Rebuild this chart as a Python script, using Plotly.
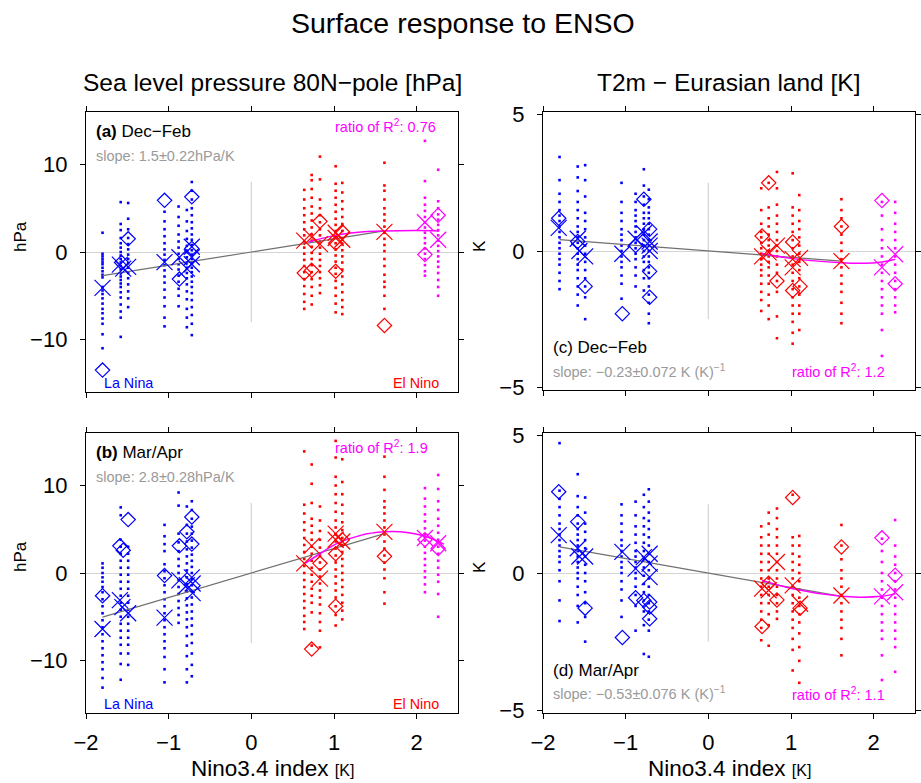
import plotly.graph_objects as go

W, H = 921, 783

# ---------------- data ----------------
NINO = [-1.80, -1.58, -1.49, -1.05, -0.88, -0.78, -0.72,
        0.64, 0.73, 0.83, 1.02, 1.10, 1.61, 2.10, 2.26]

# ensemble members per event column (panel a: SLP Dec-Feb)
SLP_DJF_MEMBERS = [
    [2.2, -0.2, -0.5, -0.8, -1.1, -1.4, -1.8, -2.2, -2.6, -2.9, -4.0, -4.4, -4.8, -5.3, -5.9, -6.5, -7.0, -7.6, -8.2, -9.4, -11.0],
    [5.7, 3.2, 2.5, 1.6, 1.0, 0.5, 0.0, -0.4, -0.8, -1.2, -1.6, -2.0, -2.4, -2.8, -3.2, -3.6, -4.0, -4.6, -5.2, -6.0, -6.8, -7.5, -9.7],
    [5.6, 3.8, 2.6, 1.6, 0.9, 0.3, -0.3, -0.8, -1.3, -1.8, -2.4, -3.0, -3.7, -4.5, -5.3, -6.3],
    [4.6, 3.5, 2.6, 1.8, 1.0, 0.3, -0.3, -0.9, -1.5, -2.1, -2.8, -3.5, -4.3, -5.2, -6.2, -7.5, -8.5],
    [5.2, 4.0, 3.0, 2.0, 1.2, 0.5, -0.2, -0.8, -1.4, -2.0, -2.7, -3.4, -4.2, -5.0, -6.2],
    [4.8, 3.5, 2.4, 1.5, 0.7, 0.0, -0.6, -1.2, -1.8, -2.4, -3.0, -3.7, -4.5, -5.4, -6.5, -7.5, -8.6],
    [8.0, 7.0, 6.0, 5.0, 4.2, 3.4, 2.7, 2.0, 1.4, 0.8, 0.2, -0.3, -0.8, -1.3, -1.8, -2.3, -2.8, -3.4, -4.0, -4.7, -5.5, -6.3, -7.2, -8.2, -9.5],
    [7.1, 6.0, 5.0, 4.2, 3.4, 2.6, 1.9, 1.2, 0.5, -0.2, -0.9, -1.6, -2.3, -3.1, -3.9, -4.8, -5.7, -6.5],
    [8.8, 8.2, 7.2, 6.2, 5.2, 4.4, 3.6, 2.8, 2.0, 1.3, 0.6, -0.1, -0.8, -1.5, -2.3, -3.1, -4.0, -5.0, -6.0],
    [10.9, 8.3, 6.0, 5.0, 4.2, 3.4, 2.6, 1.9, 1.2, 0.5, -0.2, -0.9, -1.6, -2.3, -3.0, -3.8, -4.7],
    [9.8, 7.8, 7.0, 6.2, 5.4, 4.6, 3.8, 3.1, 2.4, 1.7, 1.0, 0.3, -0.4, -1.1, -1.8, -2.5, -3.3, -4.1, -5.0, -5.9, -6.9],
    [7.9, 6.8, 5.8, 4.9, 4.0, 3.2, 2.4, 1.6, 0.9, 0.2, -0.5, -1.2, -2.0, -2.8, -3.7, -4.6, -5.5, -6.3, -7.1],
    [10.2, 7.6, 7.0, 6.0, 5.0, 4.3, 3.6, 2.9, 2.2, 1.5, 0.8, 0.1, -0.8, -1.6, -2.6, -3.4, -4.0, -5.0, -6.5],
    [12.7, 8.1, 6.2, 5.4, 4.7, 4.0, 3.4, 2.8, 2.2, 1.6, 1.0, 0.4, -0.2, -0.8, -1.5, -2.2, -2.7],
    [9.4, 5.8, 5.0, 4.3, 3.7, 3.1, 2.5, 1.9, 1.3, 0.7, 0.1, -0.5, -1.1, -1.7, -2.4, -3.2, -4.0, -5.0],
]
SLP_DJF_MEAN_X = [-1.80, -1.59, -1.55, -1.49, -1.05, -0.87, -0.78, -0.72, -0.72, -0.72, 0.64, 0.73, 0.83, 1.02, 1.02, 1.10, 1.61, 2.10, 2.26]
SLP_DJF_MEAN_Y = [-4.1, -1.45, -1.9, -1.7, -1.15, -0.6, -1.9, 0.6, -0.6, -1.4, 1.3, 1.7, 0.9, 2.2, 1.6, 1.4, 2.3, 3.4, 1.4]
SLP_DJF_OBS_X = [-1.80, -1.57, -1.49, -1.05, -0.87, -0.72, -0.72, 0.64, 0.73, 0.83, 1.02, 1.02, 1.10, 1.61, 2.10, 2.26]
SLP_DJF_OBS_Y = [-13.5, -1.2, 1.5, 5.9, -3.1, 6.3, 0.4, -2.4, -2.1, 3.5, 1.0, -2.2, 2.3, -8.4, -0.3, 4.2]
SLP_DJF_CURVE_X = [0.69, 1.02, 1.36, 1.61, 2.0, 2.27]
SLP_DJF_CURVE_Y = [1.15, 1.9, 2.3, 2.4, 2.45, 2.4]

# panel b: SLP Mar/Apr
SLP_MA_MEMBERS = [
    [1.1, 0.6, 0.0, -0.5, -1.0, -1.6, -2.2, -3.0, -3.8, -4.6, -5.4, -6.2, -7.0, -7.8, -8.6, -9.4, -10.2, -11.0, -12.0, -13.1],
    [7.5, 6.6, 3.8, 3.0, 2.2, 1.4, 0.6, -0.2, -1.0, -1.8, -2.6, -3.4, -4.2, -5.0, -5.8, -6.6, -7.4, -8.2, -9.2, -10.4, -12.2],
    [3.0, 2.2, 1.4, 0.6, -0.2, -1.0, -1.8, -2.6, -3.4, -4.2, -5.0, -5.8, -6.6, -7.4, -8.2, -9.2, -10.5],
    [5.5, 4.2, 3.3, 2.5, 1.0, 0.2, -0.6, -1.4, -2.2, -3.0, -3.8, -4.6, -5.4, -6.2, -7.0, -7.8, -8.6, -9.6, -11.0, -12.5],
    [9.2, 7.7, 4.5, 3.5, 2.5, 1.6, 0.8, 0.0, -0.8, -1.6, -2.4, -3.2, -4.0, -4.8, -5.7],
    [7.6, 5.5, 4.5, 3.6, 2.7, 1.9, 1.1, 0.3, -0.5, -1.3, -2.1, -2.9, -3.7, -4.5, -5.3, -6.2, -7.2, -8.3, -9.5, -11.0, -12.5],
    [8.2, 7.2, 6.2, 5.3, 4.5, 3.7, 2.9, 2.1, 1.4, 0.7, 0.0, -0.7, -1.4, -2.1, -2.8, -3.6, -4.4, -5.2, -6.0, -7.0, -8.0, -9.2, -10.5, -11.8],
    [13.9, 7.8, 6.8, 5.8, 4.9, 4.0, 3.2, 2.4, 1.6, 0.8, 0.0, -0.8, -1.6, -2.4, -3.2, -4.0, -4.9, -5.6, -6.4],
    [12.4, 10.2, 8.0, 6.2, 5.4, 4.6, 3.8, 3.0, 2.2, 1.4, 0.6, -0.2, -1.0, -1.8, -2.6, -3.4, -4.5, -8.3],
    [7.6, 6.0, 4.8, 3.8, 2.9, 2.0, 1.2, 0.4, -0.4, -1.2, -2.0, -2.8, -3.6, -4.6, -5.6, -6.6, -8.5],
    [15.1, 13.2, 11.0, 10.0, 9.0, 8.0, 7.0, 6.0, 5.2, 4.4, 3.6, 2.8, 2.0, 1.2, 0.4, -0.4, -1.2, -2.0, -2.8, -3.8, -4.8, -6.0],
    [13.0, 10.4, 9.0, 7.8, 6.8, 5.8, 4.9, 4.0, 3.2, 2.4, 1.6, 0.8, 0.0, -0.8, -1.6, -2.5, -3.4, -4.3, -5.3],
    [13.3, 11.0, 9.5, 8.2, 7.5, 6.8, 6.0, 5.2, 4.4, 3.6, 2.8, 2.0, 1.2, 0.4, -0.6, -2.2, -3.5],
    [9.7, 8.5, 7.6, 6.7, 5.9, 5.1, 4.4, 3.7, 3.0, 2.3, 1.6, 0.9, 0.2, -0.5, -1.3, -2.2],
    [11.2, 9.6, 8.2, 7.2, 6.2, 5.4, 4.6, 3.8, 3.0, 2.2, 1.4, 0.6, -0.2, -1.0, -2.4, -5.0],
]
SLP_MA_MEAN_X = [-1.80, -1.59, -1.56, -1.49, -1.05, -0.87, -0.78, -0.72, -0.71, -0.71, 0.64, 0.73, 0.83, 1.02, 1.02, 1.10, 1.61, 2.10, 2.26]
SLP_MA_MEAN_Y = [-6.4, -3.1, -3.9, -4.6, -5.1, -0.85, -1.4, -0.5, -1.2, -2.3, 1.1, 3.1, -0.65, 4.5, 3.8, 3.6, 4.7, 4.0, 3.4]
SLP_MA_OBS_X = [-1.80, -1.59, -1.55, -1.49, -1.05, -0.87, -0.78, -0.72, -0.72, 0.73, 0.83, 1.02, 1.02, 1.10, 1.61, 2.10, 2.26]
SLP_MA_OBS_Y = [-2.6, 3.1, 2.6, 6.1, -0.3, 3.1, 4.7, 6.4, 3.3, -8.7, 1.1, 2.2, -3.8, 3.8, 1.9, 3.8, 2.8]
SLP_MA_CURVE_X = [0.65, 0.83, 1.02, 1.32, 1.61, 1.8, 2.1, 2.33]
SLP_MA_CURVE_Y = [1.1, 2.2, 3.3, 4.3, 4.7, 4.7, 4.2, 3.3]

# panel c: T2m Dec-Feb
T2M_DJF_MEMBERS = [
    [3.45, 2.6, 2.1, 1.8, 1.5, 1.3, 1.1, 0.9, 0.7, 0.5, 0.3, 0.1, -0.1, -0.3, -0.5, -0.8, -1.1, -1.4],
    [3.1, 2.7, 2.2, 1.8, 1.5, 1.2, 0.9, 0.7, 0.5, 0.3, 0.1, -0.1, -0.3, -0.5, -0.7, -1.0, -1.3, -1.6, -2.0],
    [3.15, 2.6, 2.0, 1.4, 1.1, 0.8, 0.5, 0.2, -0.1, -0.4, -0.7, -1.0, -1.3, -1.7, -2.5],
    [2.5, 1.8, 1.4, 1.1, 0.8, 0.6, 0.4, 0.2, 0.0, -0.2, -0.4, -0.6, -0.9, -1.2, -1.75],
    [2.1, 1.8, 1.5, 1.3, 1.1, 0.9, 0.7, 0.5, 0.3, 0.1, -0.1, -0.3, -0.6, -0.9, -1.3],
    [3.0, 2.4, 2.0, 1.7, 1.4, 1.2, 1.0, 0.8, 0.6, 0.4, 0.2, 0.0, -0.2, -0.4, -0.7, -1.0, -1.45],
    [2.25, 1.9, 1.6, 1.4, 1.2, 1.0, 0.8, 0.6, 0.4, 0.2, 0.0, -0.2, -0.4, -0.6, -0.8, -1.0, -1.3, -1.6, -1.9, -2.3, -2.65],
    [2.3, 1.5, 1.0, 0.7, 0.5, 0.3, 0.1, -0.1, -0.3, -0.5, -0.7, -0.9, -1.2, -1.5, -1.8, -2.2],
    [2.5, 1.6, 1.2, 0.9, 0.6, 0.4, 0.2, 0.0, -0.2, -0.4, -0.6, -0.9, -1.2, -1.6, -2.0, -2.5],
    [2.9, 2.3, 1.7, 1.3, 1.0, 0.7, 0.4, 0.2, 0.0, -0.2, -0.5, -0.8, -1.1, -1.5, -2.4, -3.2],
    [2.85, 1.6, 1.3, 1.0, 0.7, 0.4, 0.1, -0.2, -0.5, -0.8, -1.1, -1.4, -1.7, -2.0, -2.3, -2.6, -3.0, -3.4],
    [2.05, 1.5, 1.1, 0.8, 0.5, 0.2, -0.1, -0.4, -0.7, -1.0, -1.3, -1.6, -2.0, -2.3, -2.9],
    [1.9, 1.5, 1.2, 0.9, 0.6, 0.3, 0.0, -0.3, -0.6, -0.9, -1.2, -1.5, -1.9, -2.3, -2.65],
    [1.8, 1.3, 0.8, 0.4, 0.1, -0.2, -0.5, -0.8, -1.1, -1.4, -1.7, -2.0, -2.3, -2.9, -3.85],
    [1.8, 1.4, 1.0, 0.7, 0.4, 0.1, -0.2, -0.5, -0.8, -1.1, -1.4, -1.7, -2.0, -2.25],
]
T2M_DJF_MEAN_X = [-1.81, -1.58, -1.56, -1.49, -1.04, -0.88, -0.78, -0.71, -0.71, -0.71, 0.65, 0.73, 0.83, 1.02, 1.02, 1.11, 1.61, 2.10, 2.26]
T2M_DJF_MEAN_Y = [0.85, 0.45, 0.0, -0.2, -0.1, 0.45, 0.65, 0.35, 0.2, 0.0, -0.2, -0.05, 0.2, -0.6, -0.3, -0.25, -0.37, -0.6, -0.12]
T2M_DJF_OBS_X = [-1.81, -1.58, -1.49, -1.04, -0.88, -0.78, -0.71, -0.71, -0.71, 0.65, 0.73, 0.83, 1.02, 1.02, 1.11, 1.61, 2.10, 2.26]
T2M_DJF_OBS_Y = [1.2, 0.35, -1.3, -2.3, 0.2, 1.9, 0.8, -0.75, -1.7, 0.55, 2.5, -1.1, 0.33, -1.45, -1.3, 0.9, 1.85, -1.2]
T2M_DJF_CURVE_X = [0.65, 1.02, 1.61, 1.87, 2.1, 2.26]
T2M_DJF_CURVE_Y = [-0.09, -0.28, -0.43, -0.45, -0.4, -0.3]

# panel d: T2m Mar/Apr
T2M_MA_MEMBERS = [
    [4.73, 3.0, 2.7, 2.4, 2.1, 1.8, 1.6, 1.4, 1.2, 1.0, 0.8, 0.6, 0.4, 0.1, -0.3, -1.0, -1.75],
    [3.6, 2.8, 2.4, 2.1, 1.8, 1.6, 1.4, 1.2, 1.0, 0.8, 0.6, 0.4, 0.2, 0.0, -0.2, -0.5, -0.8, -1.2, -1.8],
    [2.75, 2.2, 1.8, 1.5, 1.2, 0.9, 0.6, 0.3, 0.0, -0.3, -0.7, -1.1, -1.6, -2.5],
    [2.5, 2.1, 1.8, 1.5, 1.2, 1.0, 0.8, 0.6, 0.4, 0.2, 0.0, -0.3, -0.6, -1.0, -1.6],
    [2.6, 2.1, 1.7, 1.4, 1.1, 0.8, 0.6, 0.4, 0.2, 0.0, -0.2, -0.5, -0.8, -1.2, -2.1],
    [2.85, 2.4, 2.0, 1.7, 1.4, 1.1, 0.8, 0.5, 0.2, -0.1, -0.4, -0.7, -1.0, -1.4, -1.9, -2.95],
    [3.05, 2.6, 2.2, 1.9, 1.6, 1.3, 1.0, 0.7, 0.4, 0.1, -0.2, -0.5, -0.8, -1.1, -1.4, -1.7, -2.1, -3.05],
    [1.7, 1.3, 1.0, 0.7, 0.4, 0.1, -0.2, -0.5, -0.8, -1.1, -1.4, -1.7, -2.0, -2.45],
    [2.2, 1.8, 1.4, 1.0, 0.7, 0.4, 0.1, -0.2, -0.5, -0.8, -1.1, -1.5, -1.9, -2.65],
    [2.35, 2.0, 1.6, 1.3, 1.0, 0.7, 0.4, 0.1, -0.2, -0.5, -0.8, -1.1, -1.4, -1.67],
    [2.85, 1.3, 1.0, 0.7, 0.4, 0.1, -0.2, -0.5, -0.8, -1.1, -1.4, -1.7, -2.0, -2.4, -2.8, -3.55],
    [1.35, 1.0, 0.6, 0.3, 0.0, -0.3, -0.6, -0.9, -1.2, -1.5, -1.8, -2.2, -2.7, -3.2, -4.0],
    [1.75, 1.0, 0.5, 0.1, -0.2, -0.5, -0.8, -1.1, -1.4, -1.7, -2.0, -2.4, -3.0],
    [1.25, 0.8, 0.4, 0.0, -0.3, -0.6, -0.9, -1.2, -1.5, -1.8, -2.1, -2.4, -3.0, -3.9],
    [1.93, 1.0, 0.6, 0.3, 0.0, -0.3, -0.6, -0.9, -1.2, -1.5, -1.8, -2.1, -2.4, -2.7, -3.6],
]
T2M_MA_MEAN_X = [-1.81, -1.58, -1.56, -1.49, -1.04, -0.88, -0.78, -0.71, -0.71, -0.71, 0.65, 0.73, 0.83, 1.02, 1.11, 1.61, 2.10, 2.26]
T2M_MA_MEAN_Y = [1.38, 0.9, 0.6, 0.6, 0.77, 0.16, 0.58, 0.7, 0.34, -0.15, -0.57, -0.63, 0.4, -0.45, -1.12, -0.82, -0.85, -0.7]
T2M_MA_OBS_X = [-1.81, -1.58, -1.49, -1.04, -0.88, -0.78, -0.71, -0.71, -0.71, 0.65, 0.73, 0.83, 1.02, 1.11, 1.61, 2.10, 2.26]
T2M_MA_OBS_Y = [2.96, 1.87, -1.28, -2.35, -0.9, -1.0, -1.06, -1.24, -1.67, -1.95, -0.37, -0.98, 2.75, -1.28, 0.95, 1.28, -0.08]
T2M_MA_CURVE_X = [0.65, 1.02, 1.61, 1.83, 2.1, 2.26]
T2M_MA_CURVE_Y = [-0.27, -0.57, -0.85, -0.88, -0.85, -0.76]

SLOPES = [1.5, 2.8, -0.23, -0.53]
FIT_X = [-1.80, 1.61]

PANEL_LABELS = ["Dec\u2212Feb", "Mar/Apr", "Dec\u2212Feb", "Mar/Apr"]
PANEL_LETTERS = ["a", "b", "c", "d"]
SLOPE_TEXT = ["slope: 1.5\u00b10.22hPa/K", "slope: 2.8\u00b10.28hPa/K",
              "slope: \u22120.23\u00b10.072 K (K)<sup>\u22121</sup>",
              "slope: \u22120.53\u00b10.076 K (K)<sup>\u22121</sup>"]
RATIO_TEXT = ["0.76", "1.9", "1.2", "1.1"]

# ---------------- figure ----------------
BLUE, RED, MAG = "#0000FF", "#FF0000", "#FF00FF"
FONT = "Liberation Sans, Arial, sans-serif"


def col(x):
    if x < 0:
        return BLUE
    if x < 2:
        return RED
    return MAG


def px_x(p):
    return p / W


def px_y(p):
    return 1 - p / H


panels = [
    dict(members=SLP_DJF_MEMBERS, mx=SLP_DJF_MEAN_X, my=SLP_DJF_MEAN_Y, ox=SLP_DJF_OBS_X, oy=SLP_DJF_OBS_Y,
         cx=SLP_DJF_CURVE_X, cy=SLP_DJF_CURVE_Y, dom=(86, 458, 112, 392), yr=(-16, 16), yt=[-10, 0, 10], vh=8),
    dict(members=SLP_MA_MEMBERS, mx=SLP_MA_MEAN_X, my=SLP_MA_MEAN_Y, ox=SLP_MA_OBS_X, oy=SLP_MA_OBS_Y,
         cx=SLP_MA_CURVE_X, cy=SLP_MA_CURVE_Y, dom=(86, 458, 433, 713), yr=(-16, 16), yt=[-10, 0, 10], vh=8),
    dict(members=T2M_DJF_MEMBERS, mx=T2M_DJF_MEAN_X, my=T2M_DJF_MEAN_Y, ox=T2M_DJF_OBS_X, oy=T2M_DJF_OBS_Y,
         cx=T2M_DJF_CURVE_X, cy=T2M_DJF_CURVE_Y, dom=(543, 915, 112, 390), yr=(-5.1, 5.1), yt=[-5, 0, 5], vh=2.5),
    dict(members=T2M_MA_MEMBERS, mx=T2M_MA_MEAN_X, my=T2M_MA_MEAN_Y, ox=T2M_MA_OBS_X, oy=T2M_MA_OBS_Y,
         cx=T2M_MA_CURVE_X, cy=T2M_MA_CURVE_Y, dom=(543, 915, 433, 713), yr=(-5.1, 5.1), yt=[-5, 0, 5], vh=2.5),
]

fig = go.Figure()
layout = dict(width=W, height=H, margin=dict(l=0, r=0, t=0, b=0, autoexpand=False), paper_bgcolor="white",
              plot_bgcolor="white", showlegend=False, font=dict(family=FONT, color="black"))
annotations = []

for i, p in enumerate(panels):
    n = "" if i == 0 else str(i + 1)
    xa, ya = "x" + n, "y" + n
    l, r, t, b = p["dom"]
    axis_common = dict(showline=True, linecolor="black", linewidth=1.3, mirror="ticks", ticks="outside",
                       ticklen=5, tickcolor="black", tickwidth=1.2, showgrid=False, automargin=False,
                       tickfont=dict(size=22, family=FONT, color="black"))
    layout["xaxis" + n] = dict(axis_common, domain=[px_x(l), px_x(r)], anchor=ya, range=[-2, 2.5],
                               tickvals=[-2, -1, 0, 1, 2], ticktext=["\u22122", "\u22121", "0", "1", "2"],
                               showticklabels=(i in (1, 3)), zeroline=False, ticklabelstandoff=4)
    layout["yaxis" + n] = dict(axis_common, domain=[px_y(b), px_y(t)], anchor=xa, range=list(p["yr"]),
                               tickvals=p["yt"], ticktext=[("\u2212" + str(-v)) if v < 0 else str(v) for v in p["yt"]],
                               zeroline=True, zerolinecolor="#d4d4d4", zerolinewidth=1.2, ticklabelstandoff=8)

    # vertical light line at x=0
    fig.add_trace(go.Scatter(x=[0, 0], y=[-p["vh"], p["vh"]], mode="lines", xaxis=xa, yaxis=ya,
                             line=dict(color="#d4d4d4", width=1.2), hoverinfo="skip"))

    # member dots, grouped by colour
    for c in (BLUE, RED, MAG):
        xs, ys = [], []
        for xv, mem in zip(NINO, p["members"]):
            if col(xv) == c:
                xs += [xv] * len(mem)
                ys += mem
        fig.add_trace(go.Scatter(x=xs, y=ys, mode="markers", xaxis=xa, yaxis=ya,
                                 marker=dict(symbol="square", size=2.6, color=c, line=dict(width=0))))

    # linear fit
    slope = SLOPES[i]
    fig.add_trace(go.Scatter(x=FIT_X, y=[slope * v for v in FIT_X], mode="lines", xaxis=xa, yaxis=ya,
                             line=dict(color="#707070", width=1.2)))
    # nonlinear fit
    fig.add_trace(go.Scatter(x=p["cx"], y=p["cy"], mode="lines", xaxis=xa, yaxis=ya,
                             line=dict(color=MAG, width=1.5, shape="spline")))

    # observations (diamonds) and ensemble means (crosses)
    fig.add_trace(go.Scatter(x=p["ox"], y=p["oy"], mode="markers", xaxis=xa, yaxis=ya,
                             marker=dict(symbol="diamond-open", size=11, color=[col(v) for v in p["ox"]],
                                         line=dict(width=1.2, color=[col(v) for v in p["ox"]]))))
    fig.add_trace(go.Scatter(x=p["mx"], y=p["my"], mode="markers", xaxis=xa, yaxis=ya,
                             marker=dict(symbol="x-thin-open", size=16, color=[col(v) for v in p["mx"]],
                                         line=dict(width=1.2, color=[col(v) for v in p["mx"]]))))

    # panel texts
    xd, yd = xa + " domain", ya + " domain"
    top = i in (0, 1)
    ly, sy, ry = (0.932, 0.843, 0.951) if top else (0.152, 0.07, 0.068)
    annotations.append(dict(xref=xd, yref=yd, x=0.022, y=ly, xanchor="left", yanchor="middle", showarrow=False,
                            text=("<b>(%s)</b> " if top else "(%s) ") % PANEL_LETTERS[i] + PANEL_LABELS[i],
                            font=dict(size=17, color="black")))
    annotations.append(dict(xref=xd, yref=yd, x=0.022, y=sy, xanchor="left", yanchor="middle", showarrow=False,
                            text=SLOPE_TEXT[i], font=dict(size=14.5, color="#9a9a9a")))
    annotations.append(dict(xref=xd, yref=yd, x=0.665, y=ry, xanchor="left", yanchor="middle", showarrow=False,
                            text="ratio of R<sup>2</sup>: " + RATIO_TEXT[i], font=dict(size=14.5, color=MAG)))
    if top:
        annotations.append(dict(xref=xd, yref=yd, x=0.044, y=0.032, xanchor="left", yanchor="middle",
                                showarrow=False, text="La Nina", font=dict(size=14.3, color=BLUE)))
        annotations.append(dict(xref=xd, yref=yd, x=0.955, y=0.032, xanchor="right", yanchor="middle",
                                showarrow=False, text="El Nino", font=dict(size=14.3, color=RED)))

# titles
annotations.append(dict(xref="paper", yref="paper", x=px_x(463), y=px_y(23), showarrow=False,
                        xanchor="center", yanchor="middle", text="Surface response to ENSO", font=dict(size=28.5)))
annotations.append(dict(xref="paper", yref="paper", x=px_x(272), y=px_y(83), showarrow=False,
                        xanchor="center", yanchor="middle",
                        text="Sea level pressure 80N\u2212pole [hPa]", font=dict(size=24.5)))
annotations.append(dict(xref="paper", yref="paper", x=px_x(729), y=px_y(83), showarrow=False,
                        xanchor="center", yanchor="middle",
                        text="T2m \u2212 Eurasian land [K]", font=dict(size=24.5)))
for cx in (272, 729):
    annotations.append(dict(xref="paper", yref="paper", x=px_x(cx), y=px_y(768), showarrow=False,
                            xanchor="center", yanchor="middle",
                            text="Nino3.4 index <span style='font-size:16px'>[K]</span>", font=dict(size=22.5)))
for yy in (237, 557):
    annotations.append(dict(xref="paper", yref="paper", x=px_x(20), y=px_y(yy), showarrow=False, textangle=-90,
                            xanchor="center", yanchor="middle", text="hPa", font=dict(size=17)))
for yy in (246, 567):
    annotations.append(dict(xref="paper", yref="paper", x=px_x(479), y=px_y(yy), showarrow=False, textangle=-90,
                            xanchor="center", yanchor="middle", text="K", font=dict(size=17)))

layout["annotations"] = annotations
fig.update_layout(**layout)
fig.write_html("out.html")
